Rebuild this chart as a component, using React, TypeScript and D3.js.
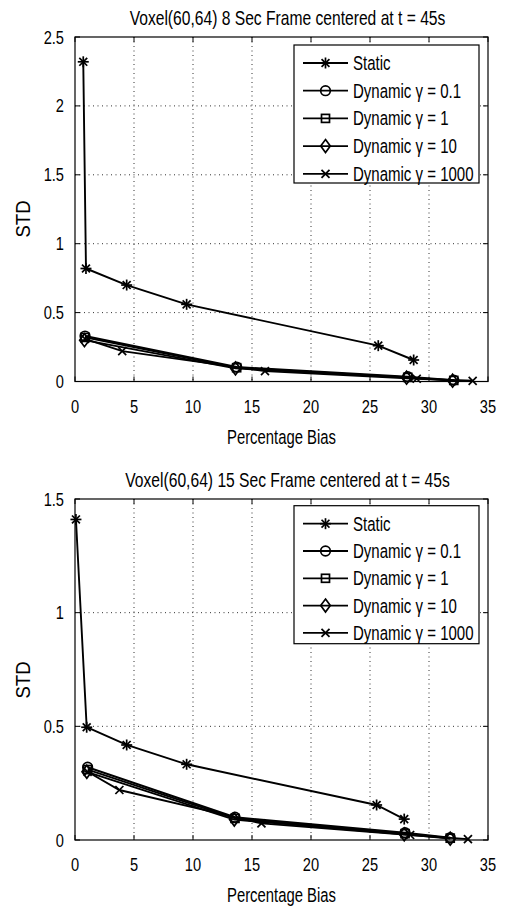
import React from "react";
import * as d3 from "d3";

// ---------- Data ----------
const xTicks = [0, 5, 10, 15, 20, 25, 30, 35];
const yTicksTop = [0, 0.5, 1, 1.5, 2, 2.5];
const yTicksBottom = [0, 0.5, 1, 1.5];
const yTickLabelsTop = ["0", "0.5", "1", "1.5", "2", "2.5"];
const yTickLabelsBottom = ["0", "0.5", "1", "1.5"];

const titles = [
  "Voxel(60,64) 8 Sec Frame centered at t = 45s",
  "Voxel(60,64) 15 Sec Frame centered at t = 45s",
];
const seriesNames = ["Static", "Dynamic γ = 0.1", "Dynamic γ = 1", "Dynamic γ = 10", "Dynamic γ = 1000"];
const seriesMarkers = ["star", "circle", "square", "diamond", "x"];

// 8 sec frame
const static8: [number, number][] = [[0.7, 2.32], [0.93, 0.82], [4.38, 0.70], [9.46, 0.56], [25.7, 0.26], [28.7, 0.156]];
const dynG01_8: [number, number][] = [[0.85, 0.33], [13.7, 0.105], [28.2, 0.035], [32.1, 0.01]];
const dynG1_8: [number, number][] = [[0.85, 0.32], [13.7, 0.10], [28.2, 0.03], [32.1, 0.008]];
const dynG10_8: [number, number][] = [[0.8, 0.30], [13.6, 0.095], [28.1, 0.028], [32.0, 0.006]];
const dynG1000_8: [number, number][] = [[0.85, 0.31], [4.0, 0.22], [16.1, 0.075], [28.96, 0.02], [33.7, 0.005]];

// 15 sec frame
const static15: [number, number][] = [[0.08, 1.41], [0.99, 0.496], [4.38, 0.418], [9.46, 0.333], [25.56, 0.154], [27.9, 0.092]];
const dynG01_15: [number, number][] = [[1.07, 0.32], [13.56, 0.10], [27.97, 0.032], [31.8, 0.01]];
const dynG1_15: [number, number][] = [[1.07, 0.31], [13.56, 0.095], [27.97, 0.028], [31.8, 0.008]];
const dynG10_15: [number, number][] = [[1.0, 0.30], [13.5, 0.09], [27.9, 0.025], [31.8, 0.006]];
const dynG1000_15: [number, number][] = [[1.07, 0.30], [3.76, 0.22], [15.8, 0.073], [28.4, 0.022], [33.3, 0.004]];

const FONT = "'Liberation Sans', Arial, Helvetica, sans-serif";
const SX = 0.77;

function T({ x, y, size, anchor = "start", rotate = 0, sx = SX, children }: any) {
  return (
    <text
      transform={`translate(${x},${y}) rotate(${rotate}) scale(${sx},1)`}
      fontFamily={FONT}
      fontSize={size}
      textAnchor={anchor}
      fill="#000"
    >
      {children}
    </text>
  );
}

function Marker({ type, x, y }: { type: string; x: number; y: number }) {
  const s = 5.5;
  const common = { stroke: "#000", strokeWidth: 1.7, fill: "none" };
  if (type === "star") {
    const a = s * 0.72;
    return (
      <g {...common}>
        <line x1={x - s} y1={y} x2={x + s} y2={y} />
        <line x1={x} y1={y - s} x2={x} y2={y + s} />
        <line x1={x - a} y1={y - a} x2={x + a} y2={y + a} />
        <line x1={x - a} y1={y + a} x2={x + a} y2={y - a} />
      </g>
    );
  }
  if (type === "circle") return <circle cx={x} cy={y} r={4.8} {...common} />;
  if (type === "square") return <rect x={x - 4} y={y - 4} width={8} height={8} {...common} />;
  if (type === "diamond")
    return <path d={`M${x},${y - 6.5}L${x + 4.8},${y}L${x},${y + 6.5}L${x - 4.8},${y}Z`} {...common} />;
  const a = 4;
  return (
    <g {...common}>
      <line x1={x - a} y1={y - a} x2={x + a} y2={y + a} />
      <line x1={x - a} y1={y + a} x2={x + a} y2={y - a} />
    </g>
  );
}

function Panel({
  top, bottom, yMax, yTicks, yLabels, title, series, legendTop, legendRow, stdY,
}: any) {
  const left = 75, right = 488;
  const x = d3.scaleLinear().domain([0, 35]).range([left, right]);
  const y = d3.scaleLinear().domain([0, yMax]).range([bottom, top]);
  const line = d3.line<[number, number]>().x((d) => x(d[0])).y((d) => y(d[1]));
  const tl = 5;
  const legLeft = 294, legRight = 479, legH = 138;
  return (
    <g>
      {/* grid */}
      {xTicks.slice(1, -1).map((t) => (
        <line key={"gx" + t} x1={x(t)} x2={x(t)} y1={top} y2={bottom} stroke="#333" strokeWidth={1} strokeDasharray="1,3.5" />
      ))}
      {yTicks.slice(1, -1).map((t: number) => (
        <line key={"gy" + t} x1={left} x2={right} y1={y(t)} y2={y(t)} stroke="#333" strokeWidth={1} strokeDasharray="1,3.5" />
      ))}
      {/* ticks */}
      {xTicks.map((t) => (
        <g key={"tx" + t} stroke="#000" strokeWidth={1}>
          <line x1={x(t)} x2={x(t)} y1={bottom} y2={bottom - tl} />
          <line x1={x(t)} x2={x(t)} y1={top} y2={top + tl} />
        </g>
      ))}
      {yTicks.map((t: number) => (
        <g key={"ty" + t} stroke="#000" strokeWidth={1}>
          <line x1={left} x2={left + tl} y1={y(t)} y2={y(t)} />
          <line x1={right} x2={right - tl} y1={y(t)} y2={y(t)} />
        </g>
      ))}
      {/* tick labels */}
      {xTicks.map((t) => (
        <T key={"lx" + t} x={x(t)} y={bottom + 31} size={19} anchor="middle">{String(t)}</T>
      ))}
      {yTicks.map((t: number, i: number) => (
        <T key={"ly" + t} x={64} y={y(t) + 6.5} size={19} anchor="end">{yLabels[i]}</T>
      ))}
      {/* series */}
      {series.map((s: [number, number][], i: number) => (
        <g key={"s" + i}>
          <path d={line(s) || ""} fill="none" stroke="#000" strokeWidth={1.9} />
          {s.map((p, j) => (
            <Marker key={j} type={seriesMarkers[i]} x={x(p[0])} y={y(p[1])} />
          ))}
        </g>
      ))}
      {/* box */}
      <rect x={left} y={top} width={right - left} height={bottom - top} fill="none" stroke="#000" strokeWidth={1.2} />
      {/* legend */}
      <rect x={legLeft} y={legendTop} width={legRight - legLeft} height={legH} fill="#fff" stroke="#000" strokeWidth={1.2} />
      {seriesNames.map((n, i) => {
        const ry = legendTop + 18 + i * legendRow;
        return (
          <g key={"lg" + i}>
            <line x1={303} x2={348} y1={ry} y2={ry} stroke="#000" strokeWidth={1.8} />
            <Marker type={seriesMarkers[i]} x={325.5} y={ry} />
            <T x={353} y={ry + 7} size={19.5}>{n}</T>
          </g>
        );
      })}
      {/* labels */}
      <T x={287.5} y={top - 12} size={20.3} anchor="middle">{title}</T>
      <T x={281.5} y={bottom + 62} size={19.3} anchor="middle">Percentage Bias</T>
      <T x={30} y={stdY} size={19.5} anchor="middle" rotate={-90} sx={0.95}>STD</T>
    </g>
  );
}

export default function App() {
  return (
    <svg width={510} height={910} style={{ position: "absolute", left: 0, top: 0, background: "#fff" }}>
      <rect width={510} height={910} fill="#fff" />
      <Panel
        top={37} bottom={381.5} yMax={2.5} yTicks={yTicksTop} yLabels={yTickLabelsTop}
        title={titles[0]} series={[static8, dynG01_8, dynG1_8, dynG10_8, dynG1000_8]}
        legendTop={45} legendRow={27.7} stdY={219}
      />
      <Panel
        top={499} bottom={840} yMax={1.5} yTicks={yTicksBottom} yLabels={yTickLabelsBottom}
        title={titles[1]} series={[static15, dynG01_15, dynG1_15, dynG10_15, dynG1000_15]}
        legendTop={505.7} legendRow={27.3} stdY={680}
      />
    </svg>
  );
}
